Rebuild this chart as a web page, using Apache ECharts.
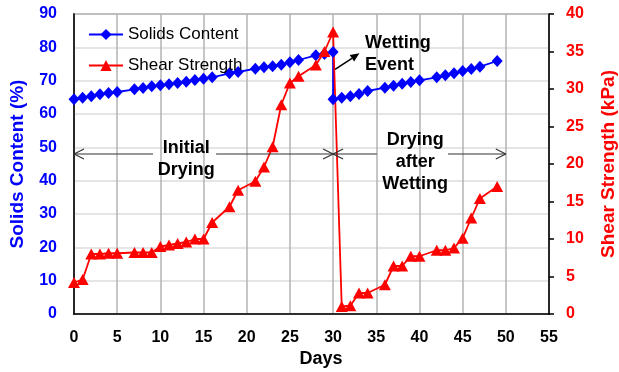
<!DOCTYPE html>
<html><head><meta charset="utf-8">
<script src="https://cdn.jsdelivr.net/npm/echarts@6/dist/echarts.min.js"></script>
<style>html,body{margin:0;padding:0;background:#fff}#c{width:619px;height:372px}</style>
</head><body><div id="c"></div>
<script>
// ---- data ----
const solidsDays = [0,1,2,3,4,5,7,8,9,10,11,12,13,14,15,16,18,19,21,22,23,24,25,26,28,29,30,
                    30,31,32,33,34,36,37,38,39,40,42,43,44,45,46,47,49];
const solidsValues = [64.4,64.9,65.3,65.9,66.3,66.6,67.4,67.8,68.3,68.6,68.9,69.3,69.7,70.2,70.6,71.0,72.2,72.6,73.6,74.0,74.3,74.8,75.5,76.2,77.6,78.0,78.6,
                      64.4,64.9,65.3,66.0,66.9,67.9,68.5,69.1,69.6,70.1,71.0,71.6,72.2,72.9,73.5,74.2,75.9];
const shearDays = [0,1,2,3,4,5,7,8,9,10,11,12,13,14,15,16,18,19,21,22,23,24,25,26,28,29,30,
                   31,32,33,34,36,37,38,39,40,42,43,44,45,46,47,49];
const shearValues = [4.2,4.6,8.0,8.0,8.1,8.1,8.2,8.2,8.2,9.0,9.2,9.4,9.6,10.0,10.0,12.2,14.3,16.5,17.7,19.6,22.3,27.9,30.8,31.7,33.2,35.0,37.6,
                     1.0,1.1,2.8,2.8,3.9,6.4,6.4,7.7,7.7,8.5,8.5,8.8,10.1,12.8,15.4,17.0];
const seriesNames = ['Solids Content','Shear Strength'];
const xTitle = 'Days';
const yLeftTitle = 'Solids Content (%)';
const yRightTitle = 'Shear Strength (kPa)';
const phase1Label = 'Initial\nDrying';
const phase2Label = 'Drying\nafter\nWetting';
const eventLabel = 'Wetting\nEvent';
const phase1Range = [0, 30];
const phase2Range = [30, 50];

const F = '"Liberation Sans", Arial, sans-serif';
const chart = echarts.init(document.getElementById('c'), null, {renderer:'canvas'});

const option = {
  animation: false,
  textStyle: {fontFamily: F},
  grid: {left: 74, right: 70, top: 14, bottom: 58, show: true, borderColor: '#333', borderWidth: 1.5,
         containLabel: false, outerBoundsMode: 'none'},
  legend: {
    orient: 'vertical', left: 83, top: 21, itemWidth: 34, itemHeight: 14, itemGap: 14,
    textStyle: {fontFamily: F, fontSize: 17, color: '#000'},
    data: seriesNames
  },
  xAxis: {
    type: 'value', min: 0, max: 55, interval: 5,
    axisLine: {show: true, lineStyle: {color: '#000', width: 1.5}},
    axisTick: {show: false},
    axisLabel: {fontFamily: F, fontSize: 16, fontWeight: 'bold', color: '#000', margin: 16},
    splitLine: {show: true, lineStyle: {color: '#b3b3b3', width: 1.5}}
  },
  yAxis: [{
    type: 'value', min: 0, max: 90, interval: 10, position: 'left',
    name: yLeftTitle, nameLocation: 'middle', nameGap: 47, nameRotate: 90,
    nameTextStyle: {fontFamily: F, fontSize: 19, fontWeight: 'bold', color: '#0000ff'},
    axisLine: {show: true, lineStyle: {color: '#000', width: 1.5}},
    axisTick: {show: false},
    axisLabel: {fontFamily: F, fontSize: 16, fontWeight: 'bold', color: '#0000ff', margin: 17},
    splitLine: {show: true, lineStyle: {color: '#dcdcdc', width: 1.5}}
  }, {
    type: 'value', min: 0, max: 40, interval: 5, position: 'right',
    name: yRightTitle, nameLocation: 'middle', nameGap: 50, nameRotate: 90,
    nameTextStyle: {fontFamily: F, fontSize: 19, fontWeight: 'bold', color: '#ff0000'},
    axisLine: {show: true, lineStyle: {color: '#000', width: 1.5}},
    axisTick: {show: true, inside: false, length: 5, lineStyle: {color: '#000', width: 1.5}},
    axisLabel: {fontFamily: F, fontSize: 16, fontWeight: 'bold', color: '#ff0000', margin: 17},
    splitLine: {show: false}
  }],
  series: [{
    name: seriesNames[0], type: 'line', yAxisIndex: 0, clip: false,
    data: solidsDays.map((d, i) => [d, solidsValues[i]]),
    symbol: 'diamond', symbolSize: [11, 12],
    lineStyle: {color: '#0000ff', width: 1.8},
    itemStyle: {color: '#0000ff'}
  }, {
    name: seriesNames[1], type: 'line', yAxisIndex: 1, clip: false,
    data: shearDays.map((d, i) => [d, shearValues[i]]),
    symbol: 'triangle', symbolSize: [12, 11],
    lineStyle: {color: '#ff0000', width: 1.8},
    itemStyle: {color: '#ff0000'}
  }]
};
chart.setOption(option);

function px(day, val) { return chart.convertToPixel({xAxisIndex: 0, yAxisIndex: 0}, [day, val]); }
const G = [];
const lineStyle = {stroke: '#333', lineWidth: 1.2};
function seg(a, b) { G.push({type: 'line', shape: {x1: a[0], y1: a[1], x2: b[0], y2: b[1]}, style: lineStyle, z: 50}); }
function openHead(tip, dir) {
  seg([tip[0] - dir * 10, tip[1] - 5], tip);
  seg([tip[0] - dir * 10, tip[1] + 5], tip);
}
const arrowVal = 48;
const p1a = px(phase1Range[0], arrowVal), p1b = px(phase1Range[1], arrowVal);
seg(p1a, px(9.15, arrowVal)); seg(px(16.45, arrowVal), p1b);
openHead(p1a, -1); openHead(p1b, 1);
const p2a = px(phase2Range[0], arrowVal), p2b = px(phase2Range[1], arrowVal);
seg(p2a, px(35.06, arrowVal)); seg(px(43.3, arrowVal), p2b);
openHead(p2a, -1); openHead(p2b, 1);

const txt = (pos, text, align) => G.push({type: 'text', x: pos[0], y: pos[1], z: 60,
  style: {text: text, fontFamily: F, fontSize: 18, fontWeight: 'bold', fill: '#000', align: align, verticalAlign: 'middle', lineHeight: 22}});
txt(px(13.0, 46.6), phase1Label, 'center');
txt(px(39.5, 45.5), phase2Label, 'center');
txt(px(33.7, 78.0), eventLabel, 'left');

const ea = px(30.23, 73.4), eb = px(33.05, 78.2);
const ang = Math.atan2(eb[1] - ea[1], eb[0] - ea[0]);
const hl = 9, hw = 4;
const base = [eb[0] - hl * Math.cos(ang), eb[1] - hl * Math.sin(ang)];
G.push({type: 'line', shape: {x1: ea[0], y1: ea[1], x2: base[0], y2: base[1]}, style: {stroke: '#000', lineWidth: 1.5}, z: 50});
G.push({type: 'polygon', shape: {points: [eb,
  [base[0] + hw * Math.sin(ang), base[1] - hw * Math.cos(ang)],
  [base[0] - hw * Math.sin(ang), base[1] + hw * Math.cos(ang)]]}, style: {fill: '#000'}, z: 50});

const dpos = px(28.6, 0);
G.push({type: 'text', x: dpos[0], y: dpos[1] + 45, z: 60,
  style: {text: xTitle, fontFamily: F, fontSize: 18, fontWeight: 'bold', fill: '#000', align: 'center', verticalAlign: 'middle'}});

chart.setOption({graphic: G});
</script>
</body></html>
